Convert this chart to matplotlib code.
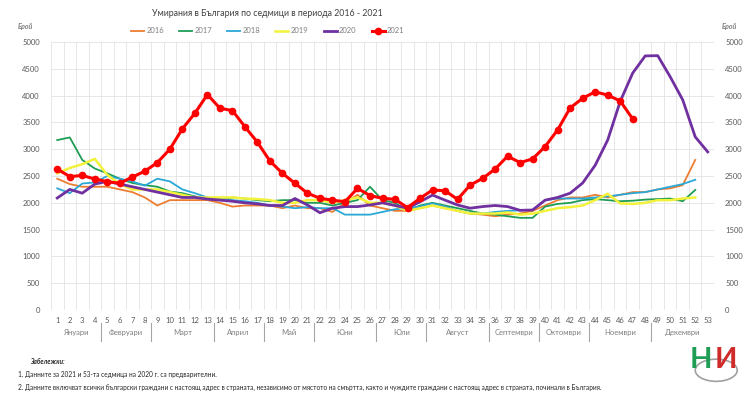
import matplotlib
matplotlib.use("Agg")
import matplotlib.pyplot as plt
import matplotlib.transforms as mtransforms
from matplotlib.patches import Circle

plt.rcParams['font.family'] = ['Lato', 'DejaVu Sans']

# weekly deaths per year
y2016 = [2450, 2350, 2300, 2300, 2300, 2250, 2200, 2100, 1950, 2050, 2050, 2050, 2050,
         2000, 1930, 1950, 1950, 1950, 1900, 1950, 1900, 1900, 1830, 2000, 2150, 1950,
         1900, 1850, 1850, 1900, 1950, 1900, 1850, 1800, 1780, 1750, 1780, 1800, 1850,
         1950, 2050, 2100, 2100, 2150, 2100, 2150, 2200, 2200, 2250, 2270, 2330, 2800]
y2017 = [3170, 3220, 2800, 2640, 2550, 2450, 2370, 2330, 2300, 2210, 2180, 2120, 2080,
         2060, 2100, 2080, 2050, 2030, 2050, 2050, 2000, 2000, 1950, 2000, 2050, 2300,
         2050, 2000, 1850, 1950, 2000, 1950, 1900, 1850, 1800, 1780, 1750, 1720, 1720,
         1930, 1980, 2000, 2050, 2070, 2050, 2030, 2040, 2060, 2070, 2080, 2030, 2240]
y2018 = [2270, 2180, 2360, 2380, 2500, 2450, 2400, 2320, 2450, 2400, 2250, 2180, 2100,
         2080, 2050, 2030, 2000, 1950, 1930, 1900, 1920, 1900, 1900, 1780, 1780, 1780,
         1830, 1880, 1900, 1930, 1990, 1930, 1850, 1800, 1800, 1830, 1850, 1860, 1870,
         2050, 2080, 2080, 2080, 2100, 2120, 2150, 2180, 2200, 2250, 2300, 2350, 2430]
y2019 = [2550, 2650, 2720, 2820, 2520, 2350, 2250, 2250, 2250, 2200, 2150, 2100, 2100,
         2100, 2100, 2080, 2070, 2050, 2000, 2000, 2050, 2050, 2000, 2050, 2100, 2000,
         2000, 1950, 1850, 1900, 1950, 1900, 1850, 1800, 1800, 1800, 1820, 1780, 1800,
         1850, 1900, 1920, 1950, 2050, 2170, 1990, 1980, 2000, 2050, 2050, 2080, 2100]
y2020 = [2090, 2250, 2180, 2350, 2400, 2350, 2300, 2250, 2200, 2150, 2100, 2100, 2070,
         2050, 2030, 2000, 1980, 1950, 1950, 2080, 1960, 1815, 1900, 1930, 1930, 1960,
         2000, 1950, 1900, 2020, 2145, 2050, 1960, 1900, 1930, 1950, 1930, 1860, 1866,
         2050, 2100, 2180, 2370, 2700, 3170, 3890, 4420, 4740, 4745, 4350, 3920, 3230, 2950]
y2021 = [2630, 2490, 2510, 2445, 2395, 2365, 2480, 2590, 2750, 3000, 3380, 3670, 4020,
         3765, 3720, 3420, 3130, 2780, 2550, 2365, 2180, 2085, 2050, 2020, 2270, 2135,
         2085, 2065, 1910, 2085, 2240, 2225, 2065, 2330, 2455, 2630, 2870, 2750, 2820,
         3050, 3360, 3770, 3950, 4070, 4010, 3900, 3565]

months = ['Януари', 'Февруари', 'Март', 'Април', 'Май', 'Юни', 'Юли', 'Август',
          'Септември', 'Октомври', 'Ноември', 'Декември']
month_weeks = [4, 4, 5, 4, 4, 5, 4, 5, 4, 4, 5, 5]

fig = plt.figure(figsize=(7.5, 3.96), dpi=100)
ax = fig.add_axes([0.068, 0.217, 0.884, 0.677])

series = [
    ('2016', y2016, '#ED7D31', 1.3),
    ('2017', y2017, '#1F9D55', 1.3),
    ('2018', y2018, '#2AA8D8', 1.3),
    ('2019', y2019, '#F2F23A', 1.8),
    ('2020', y2020, '#7030A0', 2.0),
]
for name, vals, col, lw in series:
    ax.plot(range(1, len(vals) + 1), vals, color=col, lw=lw, label=name)
ax.plot(range(1, len(y2021) + 1), y2021, color='#FF0000', lw=2.2, marker='o',
        markersize=4.5, label='2021')

ax.set_xlim(0.5, 53.5)
ax.set_ylim(0, 5000)
ax.set_yticks(range(0, 5001, 500))
ax.set_xticks(range(1, 54))
ax.set_xticklabels([str(i) for i in range(1, 54)])
ax.set_xticks([i + 0.5 for i in range(0, 54)], minor=True)
ax.grid(True, which='major', axis='y', color='#E3E3E3', lw=0.6)
ax.grid(True, which='minor', axis='x', color='#E3E3E3', lw=0.6)
ax.tick_params(axis='both', which='both', length=0, labelsize=5.5, colors='#595959')
ax.tick_params(axis='x', pad=5)
ax.tick_params(axis='y', labelright=True, pad=8)
for s in ax.spines.values():
    s.set_visible(False)

# month labels and separators under the week numbers
trans = mtransforms.blended_transform_factory(ax.transData, ax.transAxes)
start = 1
for m, n in zip(months, month_weeks):
    ax.text(start + (n - 1) / 2, -0.085, m, transform=trans, ha='center', va='center',
            fontsize=5.5, color='#7F7F7F')
    end = start + n
    if end <= 53:
        ax.plot([end - 0.5, end - 0.5], [-0.05, -0.115], transform=trans, color='#A6A6A6',
                lw=0.8, clip_on=False)
    start = end

fig.text(0.357, 0.967, 'Умирания в България по седмици в периода 2016 - 2021',
         ha='center', va='center', fontsize=6.3, color='#404040')
ax.legend(loc='center', bbox_to_anchor=(0.357, 0.922), bbox_transform=fig.transFigure,
          ncol=6, frameon=False, fontsize=5.5, handlelength=1.7, columnspacing=2.0,
          handletextpad=0.3, labelcolor='#7F7F7F')
fig.text(0.024, 0.927, 'Брой', fontsize=5, style='italic', weight='bold', color='#7F7F7F')
fig.text(0.962, 0.927, 'Брой', fontsize=5, style='italic', weight='bold', color='#7F7F7F')

fig.text(0.04, 0.081, 'Забележки:', fontsize=4.7, weight='bold', style='italic', color='#262626')
fig.text(0.024, 0.048, '1. Данните за 2021 и 53-та седмица на 2020 г. са предварителни.',
         fontsize=4.7, color='#262626')
fig.text(0.024, 0.016, '2. Данните включват всички български граждани с настоящ адрес в страната, '
         'независимо от мястото на смъртта, както и чуждите граждани с настоящ адрес в страната, '
         'починали в България.', fontsize=4.7, color='#262626')

# NSI logo
fig.patches.append(Circle((0.955, 0.065), 0.028, transform=fig.transFigure, fill=False,
                          ec='#A0A0A0', lw=1.2))
fig.text(0.934, 0.09, 'Н', fontsize=21, weight='bold', color='#1F9D55', ha='center', va='center')
fig.text(0.968, 0.09, 'И', fontsize=21, weight='bold', color='#D02B2B', ha='center', va='center')

fig.savefig('out.png', dpi=100)
